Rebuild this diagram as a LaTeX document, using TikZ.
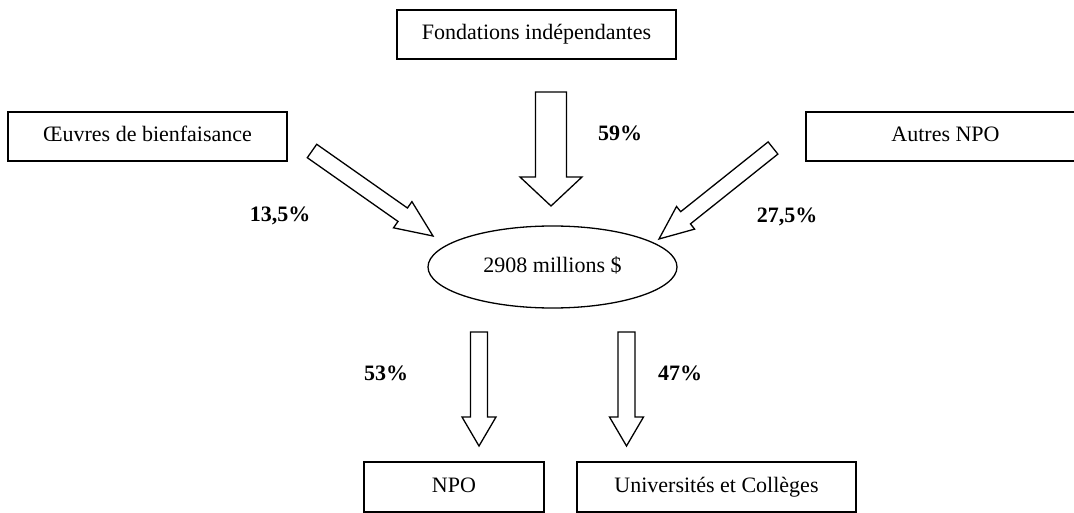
\documentclass[tikz,border=0pt]{standalone}
\usepackage{fontspec}
\setmainfont{Liberation Serif}
\usepackage{tikz}
\usetikzlibrary{calc}
\usetikzlibrary{shapes.geometric}

\newcommand{\hollowarrow}[5]{%
	\coordinate (#1#2hb) at ($(#2)!#5!(#1)$);
	\draw[fleche] ($(#1)!#3!90:(#2)$) -- ($(#1#2hb)!#3!90:(#2)$) -- ($(#1#2hb)!#4!90:(#2)$) -- (#2)
		-- ($(#1#2hb)!#4!-90:(#2)$) -- ($(#1#2hb)!#3!-90:(#2)$) -- ($(#1)!#3!-90:(#2)$) -- cycle;}

\tikzset{
	boite/.style={draw,line width=1.3pt,minimum width=279,minimum height=49,inner sep=0pt,text height=16pt,text depth=5pt},
	pct/.style={font=\fontsize{22}{26}\selectfont\bfseries},
	fleche/.style={line width=1.3pt,line join=miter}
}

\begin{document}
\begin{tikzpicture}[x=1pt,y=-1pt,font=\fontsize{22}{26}\selectfont]
	\useasboundingbox (0,0) rectangle (1074,513);
	\node[boite] (fond) at (536.5,34.5) {Fondations indépendantes};
	\node[boite] (oeuvres) at (147.5,136.5) {Œuvres de bienfaisance};
	\node[boite] (autres) at (945.5,136.5) {Autres NPO};
	\node[draw,ellipse,line width=1.3pt,minimum width=249,minimum height=82,inner sep=0pt,text height=16pt,text depth=5pt] (total) at (552.5,267) {2908 millions \$};
	\node[boite,minimum width=180,minimum height=50] (npo) at (454,487) {NPO};
	\node[boite,minimum height=50] (univ) at (716.5,487) {Universités et Collèges};
	\coordinate (haut1) at (551,92);
	\coordinate (haut2) at (551,206);
	\coordinate (gauche1) at (312,151);
	\coordinate (gauche2) at (433,236);
	\coordinate (droite1) at (773,148);
	\coordinate (droite2) at (659,239);
	\coordinate (bas1) at (479,332);
	\coordinate (bas2) at (479,446);
	\coordinate (bas3) at (626.5,332);
	\coordinate (bas4) at (626.5,446);
	\hollowarrow{haut1}{haut2}{15.5pt}{31pt}{29pt}
	\hollowarrow{gauche1}{gauche2}{8.2pt}{16pt}{37pt}
	\hollowarrow{droite1}{droite2}{7.8pt}{14.5pt}{34pt}
	\hollowarrow{bas1}{bas2}{8.5pt}{17pt}{29pt}
	\hollowarrow{bas3}{bas4}{8.5pt}{17pt}{29pt}
	\node[pct] (p59) at (620,133) {59\%};
	\node[pct] (p135) at (280,216) {13,5\%};
	\node[pct] (p275) at (787,217) {27,5\%};
	\node[pct] (p53) at (386,373) {53\%};
	\node[pct] (p47) at (680,373) {47\%};
\end{tikzpicture}
\end{document}
